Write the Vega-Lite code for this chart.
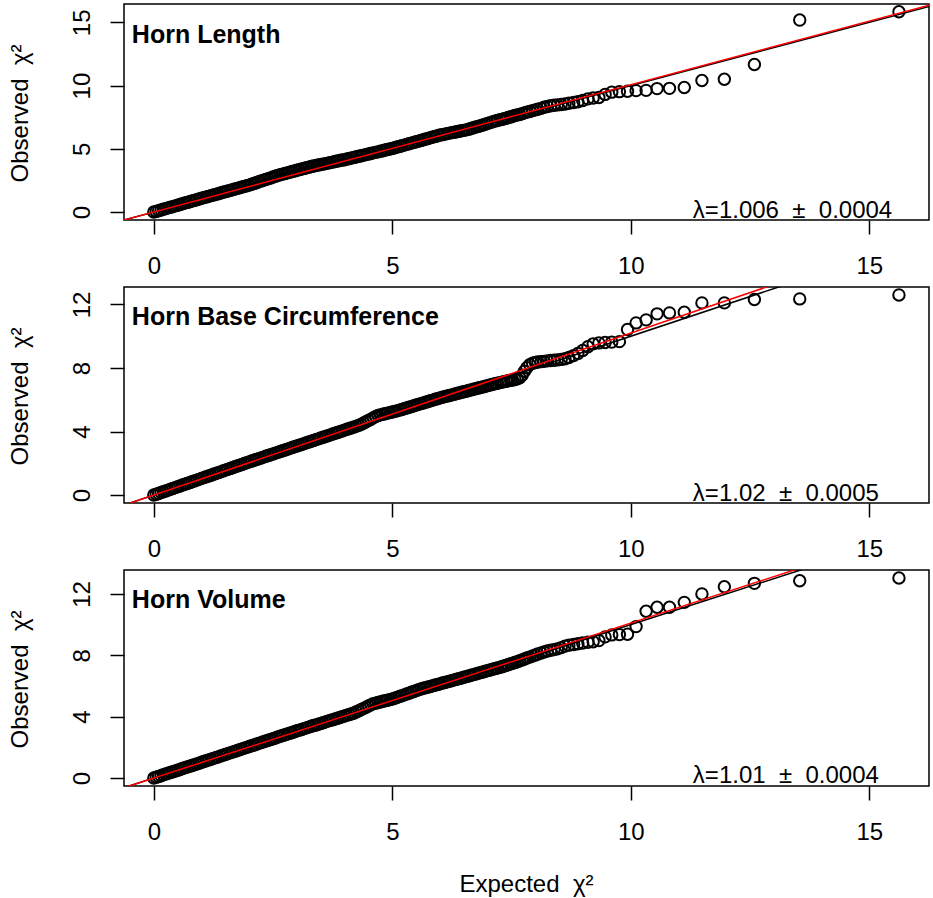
{
"$schema": "https://vega.github.io/schema/vega-lite/v6.json",
"padding": {"left": 7, "top": 1, "right": 3, "bottom": 5},
"background": "white",
"spacing": 67,
"bounds": "flush",
"config": {
  "font": "Liberation Sans",
  "view": {"stroke": "black", "strokeWidth": 1.5},
  "axis": {"domain": false, "grid": false, "tickColor": "black", "tickWidth": 1.5, "tickSize": 14, "labelFontSize": 24, "labelColor": "black", "labelFont": "Liberation Sans", "titleFont": "Liberation Sans", "titleFontSize": 24, "titleFontWeight": "normal", "titleColor": "black", "labelOverlap": false, "labelFlush": false}
},
"datasets": {
"p1": [
{"x":0,"y":0},{"x":0.05,"y":0.05},{"x":0.1,"y":0.11},{"x":0.15,"y":0.16},{"x":0.2,"y":0.22},{"x":0.25,"y":0.27},{"x":0.3,"y":0.33},{"x":0.35,"y":0.38},{"x":0.4,"y":0.43},{"x":0.45,"y":0.49},{"x":0.5,"y":0.54},{"x":0.55,"y":0.6},{"x":0.6,"y":0.65},{"x":0.65,"y":0.71},{"x":0.7,"y":0.76},{"x":0.75,"y":0.81},{"x":0.8,"y":0.87},{"x":0.85,"y":0.92},{"x":0.9,"y":0.98},{"x":0.95,"y":1.03},
{"x":1,"y":1.09},{"x":1.05,"y":1.14},{"x":1.1,"y":1.19},{"x":1.15,"y":1.24},{"x":1.2,"y":1.3},{"x":1.25,"y":1.35},{"x":1.3,"y":1.4},{"x":1.35,"y":1.45},{"x":1.4,"y":1.5},{"x":1.45,"y":1.56},{"x":1.5,"y":1.61},{"x":1.55,"y":1.66},{"x":1.6,"y":1.71},{"x":1.65,"y":1.77},{"x":1.7,"y":1.82},{"x":1.75,"y":1.87},{"x":1.8,"y":1.92},{"x":1.85,"y":1.98},{"x":1.9,"y":2.03},{"x":1.95,"y":2.08},
{"x":2,"y":2.13},{"x":2.05,"y":2.2},{"x":2.1,"y":2.26},{"x":2.15,"y":2.32},{"x":2.2,"y":2.39},{"x":2.25,"y":2.45},{"x":2.3,"y":2.51},{"x":2.35,"y":2.58},{"x":2.4,"y":2.64},{"x":2.45,"y":2.7},{"x":2.5,"y":2.77},{"x":2.55,"y":2.83},{"x":2.6,"y":2.9},{"x":2.65,"y":2.95},{"x":2.7,"y":3},{"x":2.75,"y":3.05},{"x":2.8,"y":3.1},{"x":2.85,"y":3.15},{"x":2.9,"y":3.2},{"x":2.95,"y":3.25},
{"x":3,"y":3.3},{"x":3.05,"y":3.35},{"x":3.1,"y":3.4},{"x":3.15,"y":3.45},{"x":3.2,"y":3.5},{"x":3.25,"y":3.55},{"x":3.3,"y":3.6},{"x":3.35,"y":3.64},{"x":3.4,"y":3.68},{"x":3.45,"y":3.72},{"x":3.5,"y":3.76},{"x":3.55,"y":3.79},{"x":3.6,"y":3.83},{"x":3.65,"y":3.87},{"x":3.7,"y":3.91},{"x":3.75,"y":3.95},{"x":3.8,"y":3.99},{"x":3.85,"y":4.03},{"x":3.9,"y":4.07},{"x":3.95,"y":4.11},
{"x":4,"y":4.14},{"x":4.05,"y":4.19},{"x":4.1,"y":4.23},{"x":4.15,"y":4.28},{"x":4.2,"y":4.32},{"x":4.25,"y":4.37},{"x":4.3,"y":4.41},{"x":4.35,"y":4.45},{"x":4.4,"y":4.5},{"x":4.45,"y":4.54},{"x":4.5,"y":4.59},{"x":4.55,"y":4.63},{"x":4.6,"y":4.68},{"x":4.65,"y":4.72},{"x":4.7,"y":4.76},{"x":4.75,"y":4.81},{"x":4.8,"y":4.85},{"x":4.85,"y":4.9},{"x":4.9,"y":4.94},{"x":4.95,"y":4.99},
{"x":5,"y":5.03},{"x":5.05,"y":5.08},{"x":5.1,"y":5.14},{"x":5.15,"y":5.19},{"x":5.2,"y":5.24},{"x":5.25,"y":5.29},{"x":5.3,"y":5.35},{"x":5.35,"y":5.4},{"x":5.4,"y":5.45},{"x":5.45,"y":5.51},{"x":5.5,"y":5.56},{"x":5.55,"y":5.61},{"x":5.6,"y":5.66},{"x":5.65,"y":5.72},{"x":5.7,"y":5.77},{"x":5.75,"y":5.82},{"x":5.8,"y":5.88},{"x":5.85,"y":5.93},{"x":5.9,"y":5.98},{"x":5.95,"y":6.03},
{"x":6,"y":6.09},{"x":6.05,"y":6.12},{"x":6.1,"y":6.16},{"x":6.15,"y":6.2},{"x":6.2,"y":6.24},{"x":6.25,"y":6.28},{"x":6.3,"y":6.31},{"x":6.35,"y":6.35},{"x":6.4,"y":6.39},{"x":6.45,"y":6.43},{"x":6.5,"y":6.46},{"x":6.55,"y":6.5},{"x":6.6,"y":6.54},{"x":6.65,"y":6.6},{"x":6.7,"y":6.66},{"x":6.75,"y":6.72},{"x":6.8,"y":6.77},{"x":6.85,"y":6.83},{"x":6.9,"y":6.89},{"x":6.95,"y":6.95},
{"x":7,"y":7.01},{"x":7.05,"y":7.07},{"x":7.1,"y":7.13},{"x":7.15,"y":7.19},{"x":7.2,"y":7.24},
{"x":7.26,"y":7.3},{"x":7.3,"y":7.33},{"x":7.34,"y":7.38},{"x":7.39,"y":7.42},{"x":7.43,"y":7.48},{"x":7.48,"y":7.52},{"x":7.52,"y":7.58},{"x":7.57,"y":7.63},{"x":7.62,"y":7.68},{"x":7.67,"y":7.72},{"x":7.72,"y":7.78},{"x":7.77,"y":7.84},{"x":7.82,"y":7.9},{"x":7.88,"y":7.95},{"x":7.94,"y":8.02},{"x":8,"y":8.08},{"x":8.05,"y":8.13},{"x":8.12,"y":8.2},{"x":8.18,"y":8.28},{"x":8.25,"y":8.35},{"x":8.32,"y":8.4},{"x":8.39,"y":8.44},{"x":8.46,"y":8.47},{"x":8.54,"y":8.5},{"x":8.62,"y":8.54},{"x":8.7,"y":8.6},{"x":8.8,"y":8.66},{"x":8.89,"y":8.72},{"x":8.99,"y":8.82},{"x":9.1,"y":8.95},{"x":9.21,"y":9.02},{"x":9.33,"y":9.06},{"x":9.46,"y":9.3},{"x":9.6,"y":9.48},{"x":9.76,"y":9.52},{"x":9.93,"y":9.55},{"x":10.11,"y":9.6},{"x":10.32,"y":9.62},{"x":10.55,"y":9.76},{"x":10.81,"y":9.78},{"x":11.12,"y":9.85},{"x":11.49,"y":10.4},{"x":11.96,"y":10.5},{"x":12.59,"y":11.67},{"x":13.54,"y":15.18},{"x":15.62,"y":15.84}
],
"p2": [
{"x":0,"y":0},{"x":0.05,"y":0.05},{"x":0.1,"y":0.1},{"x":0.15,"y":0.16},{"x":0.2,"y":0.21},{"x":0.25,"y":0.26},{"x":0.3,"y":0.31},{"x":0.35,"y":0.37},{"x":0.4,"y":0.42},{"x":0.45,"y":0.47},{"x":0.5,"y":0.52},{"x":0.55,"y":0.57},{"x":0.6,"y":0.63},{"x":0.65,"y":0.68},{"x":0.7,"y":0.73},{"x":0.75,"y":0.78},{"x":0.8,"y":0.84},{"x":0.85,"y":0.89},{"x":0.9,"y":0.94},{"x":0.95,"y":0.99},
{"x":1,"y":1.05},{"x":1.05,"y":1.1},{"x":1.1,"y":1.15},{"x":1.15,"y":1.2},{"x":1.2,"y":1.25},{"x":1.25,"y":1.31},{"x":1.3,"y":1.36},{"x":1.35,"y":1.41},{"x":1.4,"y":1.46},{"x":1.45,"y":1.52},{"x":1.5,"y":1.57},{"x":1.55,"y":1.62},{"x":1.6,"y":1.67},{"x":1.65,"y":1.72},{"x":1.7,"y":1.78},{"x":1.75,"y":1.83},{"x":1.8,"y":1.88},{"x":1.85,"y":1.93},{"x":1.9,"y":1.99},{"x":1.95,"y":2.04},
{"x":2,"y":2.09},{"x":2.05,"y":2.14},{"x":2.1,"y":2.19},{"x":2.15,"y":2.24},{"x":2.2,"y":2.29},{"x":2.25,"y":2.34},{"x":2.3,"y":2.39},{"x":2.35,"y":2.44},{"x":2.4,"y":2.49},{"x":2.45,"y":2.54},{"x":2.5,"y":2.59},{"x":2.55,"y":2.64},{"x":2.6,"y":2.69},{"x":2.65,"y":2.74},{"x":2.7,"y":2.79},{"x":2.75,"y":2.84},{"x":2.8,"y":2.89},{"x":2.85,"y":2.94},{"x":2.9,"y":2.99},{"x":2.95,"y":3.04},
{"x":3,"y":3.09},{"x":3.05,"y":3.14},{"x":3.1,"y":3.19},{"x":3.15,"y":3.24},{"x":3.2,"y":3.29},{"x":3.25,"y":3.34},{"x":3.3,"y":3.39},{"x":3.35,"y":3.44},{"x":3.4,"y":3.49},{"x":3.45,"y":3.54},{"x":3.5,"y":3.59},{"x":3.55,"y":3.64},{"x":3.6,"y":3.69},{"x":3.65,"y":3.74},{"x":3.7,"y":3.79},{"x":3.75,"y":3.84},{"x":3.8,"y":3.89},{"x":3.85,"y":3.94},{"x":3.9,"y":3.99},{"x":3.95,"y":4.04},
{"x":4,"y":4.09},{"x":4.05,"y":4.14},{"x":4.1,"y":4.19},{"x":4.15,"y":4.24},{"x":4.2,"y":4.29},{"x":4.25,"y":4.34},{"x":4.3,"y":4.39},{"x":4.35,"y":4.46},{"x":4.4,"y":4.54},{"x":4.45,"y":4.62},{"x":4.5,"y":4.7},{"x":4.55,"y":4.78},{"x":4.6,"y":4.86},{"x":4.65,"y":4.94},{"x":4.7,"y":5.01},{"x":4.75,"y":5.05},{"x":4.8,"y":5.09},{"x":4.85,"y":5.12},{"x":4.9,"y":5.16},{"x":4.95,"y":5.19},
{"x":5,"y":5.23},{"x":5.05,"y":5.27},{"x":5.1,"y":5.3},{"x":5.15,"y":5.35},{"x":5.2,"y":5.39},{"x":5.25,"y":5.44},{"x":5.3,"y":5.48},{"x":5.35,"y":5.53},{"x":5.4,"y":5.57},{"x":5.45,"y":5.62},{"x":5.5,"y":5.67},{"x":5.55,"y":5.71},{"x":5.6,"y":5.76},{"x":5.65,"y":5.8},{"x":5.7,"y":5.85},{"x":5.75,"y":5.89},{"x":5.8,"y":5.94},{"x":5.85,"y":5.98},{"x":5.9,"y":6.03},{"x":5.95,"y":6.07},
{"x":6,"y":6.12},{"x":6.05,"y":6.16},{"x":6.1,"y":6.2},{"x":6.15,"y":6.24},{"x":6.2,"y":6.27},{"x":6.25,"y":6.31},{"x":6.3,"y":6.35},{"x":6.35,"y":6.39},{"x":6.4,"y":6.43},{"x":6.45,"y":6.47},{"x":6.5,"y":6.5},{"x":6.55,"y":6.54},{"x":6.6,"y":6.58},{"x":6.65,"y":6.62},{"x":6.7,"y":6.66},{"x":6.75,"y":6.7},{"x":6.8,"y":6.74},{"x":6.85,"y":6.77},{"x":6.9,"y":6.81},{"x":6.95,"y":6.85},
{"x":7,"y":6.89},{"x":7.05,"y":6.93},{"x":7.1,"y":6.97},{"x":7.15,"y":7.01},{"x":7.2,"y":7.04},
{"x":7.26,"y":7.08},{"x":7.3,"y":7.11},{"x":7.34,"y":7.14},{"x":7.39,"y":7.17},{"x":7.43,"y":7.2},{"x":7.48,"y":7.22},{"x":7.52,"y":7.25},{"x":7.57,"y":7.28},{"x":7.62,"y":7.32},{"x":7.67,"y":7.38},{"x":7.72,"y":7.55},{"x":7.77,"y":7.8},{"x":7.82,"y":8.02},{"x":7.88,"y":8.2},{"x":7.94,"y":8.3},{"x":8,"y":8.35},{"x":8.05,"y":8.38},{"x":8.12,"y":8.4},{"x":8.18,"y":8.42},{"x":8.25,"y":8.45},{"x":8.32,"y":8.47},{"x":8.39,"y":8.49},{"x":8.46,"y":8.51},{"x":8.54,"y":8.54},{"x":8.62,"y":8.58},{"x":8.7,"y":8.66},{"x":8.8,"y":8.78},{"x":8.89,"y":8.92},{"x":8.99,"y":9.1},{"x":9.1,"y":9.34},{"x":9.21,"y":9.52},{"x":9.33,"y":9.58},{"x":9.46,"y":9.61},{"x":9.6,"y":9.63},{"x":9.76,"y":9.66},{"x":9.93,"y":10.42},{"x":10.11,"y":10.84},{"x":10.32,"y":11.03},{"x":10.55,"y":11.41},{"x":10.81,"y":11.47},{"x":11.12,"y":11.51},{"x":11.49,"y":12.1},{"x":11.96,"y":12.1},{"x":12.59,"y":12.31},{"x":13.54,"y":12.35},{"x":15.62,"y":12.6}
],
"p3": [
{"x":0,"y":0},{"x":0.05,"y":0.05},{"x":0.1,"y":0.1},{"x":0.15,"y":0.15},{"x":0.2,"y":0.21},{"x":0.25,"y":0.26},{"x":0.3,"y":0.31},{"x":0.35,"y":0.36},{"x":0.4,"y":0.41},{"x":0.45,"y":0.46},{"x":0.5,"y":0.51},{"x":0.55,"y":0.56},{"x":0.6,"y":0.62},{"x":0.65,"y":0.67},{"x":0.7,"y":0.72},{"x":0.75,"y":0.77},{"x":0.8,"y":0.82},{"x":0.85,"y":0.87},{"x":0.9,"y":0.92},{"x":0.95,"y":0.97},
{"x":1,"y":1.03},{"x":1.05,"y":1.08},{"x":1.1,"y":1.13},{"x":1.15,"y":1.18},{"x":1.2,"y":1.23},{"x":1.25,"y":1.28},{"x":1.3,"y":1.33},{"x":1.35,"y":1.38},{"x":1.4,"y":1.44},{"x":1.45,"y":1.49},{"x":1.5,"y":1.54},{"x":1.55,"y":1.59},{"x":1.6,"y":1.64},{"x":1.65,"y":1.69},{"x":1.7,"y":1.74},{"x":1.75,"y":1.79},{"x":1.8,"y":1.85},{"x":1.85,"y":1.9},{"x":1.9,"y":1.95},{"x":1.95,"y":2},
{"x":2,"y":2.05},{"x":2.05,"y":2.1},{"x":2.1,"y":2.15},{"x":2.15,"y":2.2},{"x":2.2,"y":2.26},{"x":2.25,"y":2.31},{"x":2.3,"y":2.36},{"x":2.35,"y":2.41},{"x":2.4,"y":2.46},{"x":2.45,"y":2.51},{"x":2.5,"y":2.56},{"x":2.55,"y":2.61},{"x":2.6,"y":2.67},{"x":2.65,"y":2.72},{"x":2.7,"y":2.77},{"x":2.75,"y":2.82},{"x":2.8,"y":2.87},{"x":2.85,"y":2.92},{"x":2.9,"y":2.97},{"x":2.95,"y":3.02},
{"x":3,"y":3.08},{"x":3.05,"y":3.12},{"x":3.1,"y":3.17},{"x":3.15,"y":3.22},{"x":3.2,"y":3.27},{"x":3.25,"y":3.32},{"x":3.3,"y":3.37},{"x":3.35,"y":3.42},{"x":3.4,"y":3.46},{"x":3.45,"y":3.51},{"x":3.5,"y":3.56},{"x":3.55,"y":3.61},{"x":3.6,"y":3.66},{"x":3.65,"y":3.71},{"x":3.7,"y":3.76},{"x":3.75,"y":3.8},{"x":3.8,"y":3.85},{"x":3.85,"y":3.9},{"x":3.9,"y":3.95},{"x":3.95,"y":4},
{"x":4,"y":4.05},{"x":4.05,"y":4.1},{"x":4.1,"y":4.14},{"x":4.15,"y":4.19},{"x":4.2,"y":4.24},{"x":4.25,"y":4.32},{"x":4.3,"y":4.39},{"x":4.35,"y":4.47},{"x":4.4,"y":4.54},{"x":4.45,"y":4.62},{"x":4.5,"y":4.7},{"x":4.55,"y":4.77},{"x":4.6,"y":4.85},{"x":4.65,"y":4.88},{"x":4.7,"y":4.92},{"x":4.75,"y":4.96},{"x":4.8,"y":5},{"x":4.85,"y":5.04},{"x":4.9,"y":5.07},{"x":4.95,"y":5.11},
{"x":5,"y":5.15},{"x":5.05,"y":5.2},{"x":5.1,"y":5.26},{"x":5.15,"y":5.31},{"x":5.2,"y":5.37},{"x":5.25,"y":5.42},{"x":5.3,"y":5.48},{"x":5.35,"y":5.53},{"x":5.4,"y":5.59},{"x":5.45,"y":5.64},{"x":5.5,"y":5.7},{"x":5.55,"y":5.75},{"x":5.6,"y":5.81},{"x":5.65,"y":5.85},{"x":5.7,"y":5.89},{"x":5.75,"y":5.93},{"x":5.8,"y":5.97},{"x":5.85,"y":6.02},{"x":5.9,"y":6.06},{"x":5.95,"y":6.1},
{"x":6,"y":6.14},{"x":6.05,"y":6.19},{"x":6.1,"y":6.23},{"x":6.15,"y":6.27},{"x":6.2,"y":6.31},{"x":6.25,"y":6.35},{"x":6.3,"y":6.4},{"x":6.35,"y":6.44},{"x":6.4,"y":6.48},{"x":6.45,"y":6.52},{"x":6.5,"y":6.57},{"x":6.55,"y":6.61},{"x":6.6,"y":6.65},{"x":6.65,"y":6.7},{"x":6.7,"y":6.74},{"x":6.75,"y":6.78},{"x":6.8,"y":6.83},{"x":6.85,"y":6.87},{"x":6.9,"y":6.91},{"x":6.95,"y":6.96},
{"x":7,"y":7},{"x":7.05,"y":7.04},{"x":7.1,"y":7.09},{"x":7.15,"y":7.13},{"x":7.2,"y":7.17},
{"x":7.26,"y":7.22},{"x":7.3,"y":7.26},{"x":7.34,"y":7.3},{"x":7.39,"y":7.35},{"x":7.43,"y":7.39},{"x":7.48,"y":7.44},{"x":7.52,"y":7.48},{"x":7.57,"y":7.53},{"x":7.62,"y":7.58},{"x":7.67,"y":7.64},{"x":7.72,"y":7.7},{"x":7.77,"y":7.76},{"x":7.82,"y":7.82},{"x":7.88,"y":7.88},{"x":7.94,"y":7.95},{"x":8,"y":8.02},{"x":8.05,"y":8.08},{"x":8.12,"y":8.15},{"x":8.18,"y":8.22},{"x":8.25,"y":8.28},{"x":8.32,"y":8.33},{"x":8.39,"y":8.37},{"x":8.46,"y":8.42},{"x":8.54,"y":8.5},{"x":8.62,"y":8.6},{"x":8.7,"y":8.66},{"x":8.8,"y":8.7},{"x":8.89,"y":8.75},{"x":8.99,"y":8.8},{"x":9.1,"y":8.85},{"x":9.21,"y":8.88},{"x":9.33,"y":8.96},{"x":9.46,"y":9.2},{"x":9.6,"y":9.33},{"x":9.76,"y":9.35},{"x":9.93,"y":9.37},{"x":10.11,"y":9.87},{"x":10.32,"y":10.87},{"x":10.55,"y":11.13},{"x":10.81,"y":11.13},{"x":11.12,"y":11.45},{"x":11.49,"y":12},{"x":11.96,"y":12.47},{"x":12.59,"y":12.69},{"x":13.54,"y":12.86},{"x":15.62,"y":13.04}
],
"l1": [{"x1":-1,"y1":-1,"x2":17,"y2":17,"c":"a"},{"x1":-1,"y1":-1.006,"x2":17,"y2":17.102,"c":"b"}],
"l2": [{"x1":-1,"y1":-1,"x2":17,"y2":17,"c":"a"},{"x1":-1,"y1":-1.02,"x2":17,"y2":17.34,"c":"b"}],
"l3": [{"x1":-1,"y1":-1,"x2":17,"y2":17,"c":"a"},{"x1":-1,"y1":-1.01,"x2":17,"y2":17.17,"c":"b"}]
},
"vconcat": [
{
 "width": 805, "height": 216,
 "layer": [
  {"data": {"name": "p1"},
   "mark": {"type": "point", "shape": "circle", "filled": false, "size": 130, "color": "black", "strokeWidth": 2, "opacity": 1},
   "encoding": {
    "x": {"field": "x", "type": "quantitative", "scale": {"domain": [-0.625, 16.25], "nice": false, "zero": false},
          "axis": {"values": [0, 5, 10, 15], "title": null, "labelBaseline": "alphabetic", "labelPadding": 39}},
    "y": {"field": "y", "type": "quantitative", "scale": {"domain": [-0.63, 16.45], "nice": false, "zero": false},
          "axis": {"values": [0, 5, 10, 15], "labelAngle": -90, "labelAlign": "center", "labelBaseline": "alphabetic", "labelPadding": 21,
                   "title": "Observed\u00a0 χ²", "titleAngle": -90, "titleAlign": "center", "titleBaseline": "alphabetic", "titleX": -97, "titleY": 109}}
   }},
  {"data": {"name": "l1"},
   "mark": {"type": "rule", "clip": true, "strokeWidth": 1.5},
   "encoding": {
    "x": {"field": "x1", "type": "quantitative", "scale": {"domain": [-0.625, 16.25], "nice": false, "zero": false}},
    "y": {"field": "y1", "type": "quantitative", "scale": {"domain": [-0.63, 16.45], "nice": false, "zero": false}},
    "x2": {"field": "x2"}, "y2": {"field": "y2"},
    "color": {"field": "c", "type": "nominal", "scale": {"domain": ["a", "b"], "range": ["black", "#ff0000"]}, "legend": null}
   }},
  {"data": {"values": [{"t": "Horn Length"}]},
   "mark": {"type": "text", "align": "left", "baseline": "alphabetic", "fontSize": 25, "fontWeight": "bold", "color": "black"},
   "encoding": {"x": {"datum": -0.46, "type": "quantitative"}, "y": {"datum": 13.37, "type": "quantitative"}, "text": {"field": "t"}}},
  {"data": {"values": [{"t": "λ=1.006\u00a0\u00a0±\u00a0\u00a00.0004"}]},
   "mark": {"type": "text", "align": "left", "baseline": "alphabetic", "fontSize": 24, "color": "black"},
   "encoding": {"x": {"datum": 11.3, "type": "quantitative"}, "y": {"datum": -0.47, "type": "quantitative"}, "text": {"field": "t"}}}
 ]
},
{
 "width": 805, "height": 216,
 "layer": [
  {"data": {"name": "p2"},
   "mark": {"type": "point", "shape": "circle", "filled": false, "size": 130, "color": "black", "strokeWidth": 2, "opacity": 1},
   "encoding": {
    "x": {"field": "x", "type": "quantitative", "scale": {"domain": [-0.625, 16.25], "nice": false, "zero": false},
          "axis": {"values": [0, 5, 10, 15], "title": null, "labelBaseline": "alphabetic", "labelPadding": 39}},
    "y": {"field": "y", "type": "quantitative", "scale": {"domain": [-0.5, 13.1], "nice": false, "zero": false},
          "axis": {"values": [0, 2, 4, 6, 8, 10, 12], "labelExpr": "datum.value % 4 === 0 ? datum.label : ''", "labelAngle": -90, "labelAlign": "center", "labelBaseline": "alphabetic", "labelPadding": 21,
                   "title": "Observed\u00a0 χ²", "titleAngle": -90, "titleAlign": "center", "titleBaseline": "alphabetic", "titleX": -97, "titleY": 109}}
   }},
  {"data": {"name": "l2"},
   "mark": {"type": "rule", "clip": true, "strokeWidth": 1.5},
   "encoding": {
    "x": {"field": "x1", "type": "quantitative", "scale": {"domain": [-0.625, 16.25], "nice": false, "zero": false}},
    "y": {"field": "y1", "type": "quantitative", "scale": {"domain": [-0.5, 13.1], "nice": false, "zero": false}},
    "x2": {"field": "x2"}, "y2": {"field": "y2"},
    "color": {"field": "c", "type": "nominal", "scale": {"domain": ["a", "b"], "range": ["black", "#ff0000"]}, "legend": null}
   }},
  {"data": {"values": [{"t": "Horn Base Circumference"}]},
   "mark": {"type": "text", "align": "left", "baseline": "alphabetic", "fontSize": 25, "fontWeight": "bold", "color": "black"},
   "encoding": {"x": {"datum": -0.46, "type": "quantitative"}, "y": {"datum": 10.71, "type": "quantitative"}, "text": {"field": "t"}}},
  {"data": {"values": [{"t": "λ=1.02\u00a0\u00a0±\u00a0\u00a00.0005"}]},
   "mark": {"type": "text", "align": "left", "baseline": "alphabetic", "fontSize": 24, "color": "black"},
   "encoding": {"x": {"datum": 11.3, "type": "quantitative"}, "y": {"datum": -0.35, "type": "quantitative"}, "text": {"field": "t"}}}
 ]
},
{
 "width": 805, "height": 216,
 "layer": [
  {"data": {"name": "p3"},
   "mark": {"type": "point", "shape": "circle", "filled": false, "size": 130, "color": "black", "strokeWidth": 2, "opacity": 1},
   "encoding": {
    "x": {"field": "x", "type": "quantitative", "scale": {"domain": [-0.625, 16.25], "nice": false, "zero": false},
          "axis": {"values": [0, 5, 10, 15], "title": "Expected\u00a0 χ²", "labelBaseline": "alphabetic", "labelPadding": 39, "titleBaseline": "alphabetic", "titleY": 105, "titleX": 402}},
    "y": {"field": "y", "type": "quantitative", "scale": {"domain": [-0.52, 13.56], "nice": false, "zero": false},
          "axis": {"values": [0, 2, 4, 6, 8, 10, 12], "labelExpr": "datum.value % 4 === 0 ? datum.label : ''", "labelAngle": -90, "labelAlign": "center", "labelBaseline": "alphabetic", "labelPadding": 21,
                   "title": "Observed\u00a0 χ²", "titleAngle": -90, "titleAlign": "center", "titleBaseline": "alphabetic", "titleX": -97, "titleY": 109}}
   }},
  {"data": {"name": "l3"},
   "mark": {"type": "rule", "clip": true, "strokeWidth": 1.5},
   "encoding": {
    "x": {"field": "x1", "type": "quantitative", "scale": {"domain": [-0.625, 16.25], "nice": false, "zero": false}},
    "y": {"field": "y1", "type": "quantitative", "scale": {"domain": [-0.52, 13.56], "nice": false, "zero": false}},
    "x2": {"field": "x2"}, "y2": {"field": "y2"},
    "color": {"field": "c", "type": "nominal", "scale": {"domain": ["a", "b"], "range": ["black", "#ff0000"]}, "legend": null}
   }},
  {"data": {"values": [{"t": "Horn Volume"}]},
   "mark": {"type": "text", "align": "left", "baseline": "alphabetic", "fontSize": 25, "fontWeight": "bold", "color": "black"},
   "encoding": {"x": {"datum": -0.46, "type": "quantitative"}, "y": {"datum": 11.08, "type": "quantitative"}, "text": {"field": "t"}}},
  {"data": {"values": [{"t": "λ=1.01\u00a0\u00a0±\u00a0\u00a00.0004"}]},
   "mark": {"type": "text", "align": "left", "baseline": "alphabetic", "fontSize": 24, "color": "black"},
   "encoding": {"x": {"datum": 11.3, "type": "quantitative"}, "y": {"datum": -0.35, "type": "quantitative"}, "text": {"field": "t"}}}
 ]
}
]
}
